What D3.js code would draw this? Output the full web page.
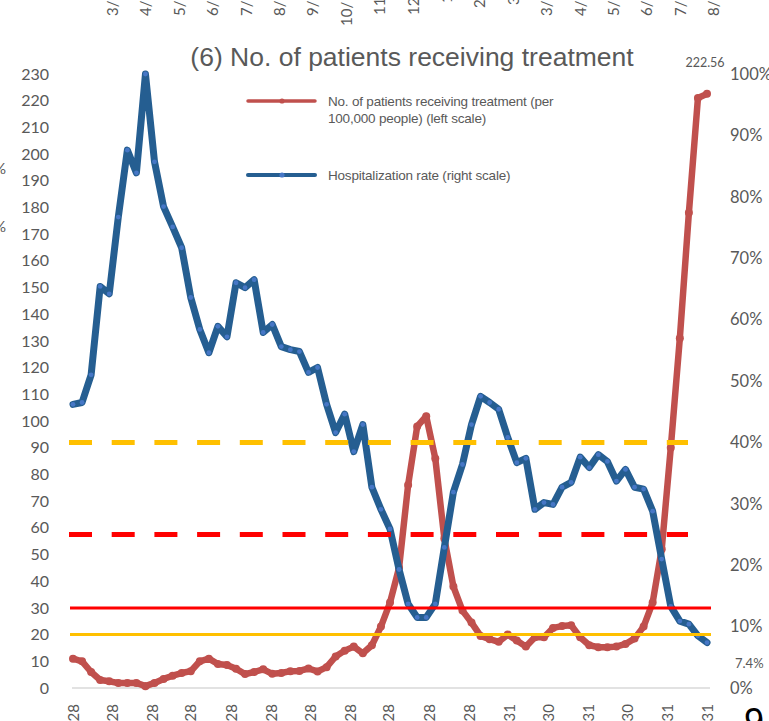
<!DOCTYPE html>
<html>
<head>
<meta charset="utf-8">
<script src="https://cdn.jsdelivr.net/npm/d3@7"></script>
<style>
  body { margin: 0; background: #fff; }
  svg { display: block; }
  text { fill: #595959; }
</style>
</head>
<body>
<div id="viz"></div>
<script>
// weekly points, first and last date
var startDate = new Date(2020, 3, 28);
var nPoints = 71;

// No. of patients receiving treatment per 100,000 (left scale)
var patients = [11, 10, 6, 3, 2.5, 1.9, 1.9, 1.9, 0.7, 1.9,
  3.4, 4.6, 5.6, 6.3, 10, 11, 9, 8.6, 7.2, 5.2,
  6, 7, 5.3, 5.6, 6.3, 6.4, 7.3, 6.2, 7.8, 11.8,
  14, 15.5, 13, 16, 23, 32, 45, 76, 98, 101.8,
  86, 56, 38, 29, 24.5, 19.5, 18.3, 17.3, 20, 17.8,
  15.5, 19, 19, 22.5, 23.2, 23.5, 19, 16, 15.3, 15.3,
  15.5, 16.5, 18.5, 23, 32, 52, 90, 131, 178, 221, 222.56];

// Hospitalization rate, % (right scale)
var hospRate = [46.2, 46.5, 51, 65.4, 64.2, 76.7, 87.6, 83.9, 100, 85.7,
  78.4, 75.1, 71.7, 63.6, 58.4, 54.6, 58.9, 57.2, 66, 65.2,
  66.5, 57.9, 59.2, 55.6, 55.1, 54.8, 51.4, 52.2, 46.2, 41.6,
  44.6, 38.5, 42.9, 32.7, 29.1, 25.9, 19.3, 13.7, 11.5, 11.5,
  13.7, 22.9, 31.9, 36.4, 42.9, 47.5, 46.5, 45.4, 40.8, 36.7,
  37.4, 29.1, 30.2, 29.9, 32.7, 33.5, 37.6, 35.9, 38, 36.9,
  33.7, 35.6, 32.7, 32.4, 28.8, 21, 13.3, 10.9, 10.4, 8.5, 7.4];

// x tick dates (Excel month steps, snapping to month end after Feb 28)
var tickDates = ['2020-04-28', '2020-05-28', '2020-06-28', '2020-07-28', '2020-08-28',
  '2020-09-28', '2020-10-28', '2020-11-28', '2020-12-28', '2021-01-28', '2021-02-28',
  '2021-03-31', '2021-04-30', '2021-05-31', '2021-06-30', '2021-07-31', '2021-08-31'];

var leftTicks = d3.range(0, 231, 10);
var rightTicks = d3.range(0, 101, 10);

// stage thresholds
var patientLimits = [20, 30];   // yellow, red
var rateLimits = [40, 25];      // yellow, red

// cut-off labels from the chart above
var strayTop = ['3/', '4/', '5/', '6/', '7/', '8/', '9/', '10/', '11', '12', '1', '2', '3',
  '3/', '4/', '5/', '6/', '7/', '8/'];
var strayTopBottom = [16, 16, 16, 16, 16, 16, 16, 26, 15, 15, 3, 8, 5, 16, 16, 16, 16, 16, 16];

var W = 769, H = 721;
var red = '#C0504D', blue = '#255E91', blueDot = '#4677C6';
var tickFont = 'Lato, "Liberation Sans", sans-serif';
var textFont = '"Liberation Sans", Arial, sans-serif';

var parse = d3.timeParse('%Y-%m-%d');
var dates = d3.range(nPoints).map(function(i) { return d3.timeDay.offset(startDate, 7 * i); });

var svg = d3.select('#viz').append('svg').attr('width', W).attr('height', H);

var x = d3.scaleTime().domain([startDate, dates[nPoints - 1]]).range([73, 707]);
var yL = d3.scaleLinear().domain([0, 230]).range([688, 74]);
var yR = d3.scaleLinear().domain([0, 100]).range([688, 74]);

// baseline
svg.append('line')
  .attr('x1', 72).attr('x2', 710)
  .attr('y1', yL(0)).attr('y2', yL(0))
  .attr('stroke', '#D9D9D9').attr('stroke-width', 1.5);

// left axis
var gL = svg.append('g').attr('transform', 'translate(52,0)')
  .call(d3.axisLeft(yL).tickValues(leftTicks).tickSize(0).tickPadding(3));
gL.select('.domain').remove();
gL.selectAll('text').style('font-family', tickFont).style('font-size', '16px').style('fill', '#595959');

// right axis
var gR = svg.append('g').attr('transform', 'translate(727,0)')
  .call(d3.axisRight(yR).tickValues(rightTicks).tickSize(0).tickPadding(3)
    .tickFormat(function(d) { return d + '%'; }));
gR.select('.domain').remove();
gR.selectAll('text').style('font-family', tickFont).style('font-size', '16.5px').style('fill', '#595959');

// bottom axis, rotated labels
var gB = svg.append('g').attr('transform', 'translate(0,' + yL(0) + ')')
  .call(d3.axisBottom(x).tickValues(tickDates.map(parse)).tickSize(0)
    .tickFormat(d3.timeFormat('%Y/%-m/%-d')));
gB.select('.domain').remove();
gB.selectAll('text')
  .attr('transform', 'rotate(-90)')
  .attr('x', -16).attr('y', 0).attr('dy', '0.35em')
  .style('text-anchor', 'end')
  .style('font-family', tickFont).style('font-size', '15px').style('fill', '#595959');

// series
var lineL = d3.line().x(function(d, i) { return x(dates[i]); }).y(function(d) { return yL(d); });
var lineR = d3.line().x(function(d, i) { return x(dates[i]); }).y(function(d) { return yR(d); });

svg.append('path').datum(patients)
  .attr('d', lineL).attr('fill', 'none')
  .attr('stroke', red).attr('stroke-width', 6.5)
  .attr('stroke-linejoin', 'round').attr('stroke-linecap', 'round');
svg.selectAll('.pdot').data(patients).enter().append('circle')
  .attr('class', 'pdot')
  .attr('cx', function(d, i) { return x(dates[i]); })
  .attr('cy', function(d) { return yL(d); })
  .attr('r', 4).attr('fill', red);

svg.append('path').datum(hospRate)
  .attr('d', lineR).attr('fill', 'none')
  .attr('stroke', blue).attr('stroke-width', 7)
  .attr('stroke-linejoin', 'round').attr('stroke-linecap', 'round');
svg.selectAll('.hdot').data(hospRate).enter().append('circle')
  .attr('class', 'hdot')
  .attr('cx', function(d, i) { return x(dates[i]); })
  .attr('cy', function(d) { return yR(d); })
  .attr('r', 2.4).attr('fill', blueDot);

// threshold lines
var limitColors = ['#FFC000', '#FF0000'];
svg.selectAll('.lim').data(patientLimits).enter().append('line')
  .attr('x1', 70).attr('x2', 711)
  .attr('y1', function(d) { return yL(d); }).attr('y2', function(d) { return yL(d); })
  .attr('stroke', function(d, i) { return limitColors[i]; })
  .attr('stroke-width', 3);
svg.selectAll('.dlim').data(rateLimits).enter().append('line')
  .attr('x1', 69).attr('x2', 688)
  .attr('y1', function(d) { return yR(d); }).attr('y2', function(d) { return yR(d); })
  .attr('stroke', function(d, i) { return limitColors[i]; })
  .attr('stroke-width', 5)
  .attr('stroke-dasharray', '23 19.7');

// data labels
var lastI = nPoints - 1;
svg.append('text')
  .attr('x', x(dates[lastI]) - 2).attr('y', yL(patients[lastI]) - 27)
  .attr('text-anchor', 'middle')
  .style('font-family', tickFont).style('font-size', '12.5px')
  .text(patients[lastI]);
svg.append('text')
  .attr('x', 735).attr('y', yR(hospRate[lastI]) + 25)
  .style('font-family', tickFont).style('font-size', '13px')
  .text(hospRate[lastI] + '%');

// title
svg.append('text')
  .attr('x', 412).attr('y', 66)
  .attr('text-anchor', 'middle')
  .style('font-family', textFont).style('font-size', '26.5px')
  .text('(6) No. of patients receiving treatment');

// legend
var legend = [
  { color: red, dot: red, w: 3.5, y: 101, lines: ['No. of patients receiving treatment (per', '100,000 people) (left scale)'] },
  { color: blue, dot: blueDot, w: 4, y: 175, lines: ['Hospitalization rate (right scale)'] }
];
legend.forEach(function(l) {
  svg.append('line').attr('x1', 248).attr('x2', 315).attr('y1', l.y).attr('y2', l.y)
    .attr('stroke', l.color).attr('stroke-width', l.w).attr('stroke-linecap', 'round');
  svg.append('circle').attr('cx', 282).attr('cy', l.y).attr('r', 2.6).attr('fill', l.dot);
  l.lines.forEach(function(t, k) {
    svg.append('text').attr('x', 328).attr('y', l.y + 5 + k * 17)
      .style('font-family', textFont).style('font-size', '13.5px').style('letter-spacing', '-0.2px')
      .text(t);
  });
});

// fragments cut off at the picture edges
svg.selectAll('.stray').data(strayTop).enter().append('text')
  .attr('transform', function(d, i) {
    return 'translate(' + (113 + i * 33.4 + 5) + ',' + strayTopBottom[i] + ') rotate(-90)';
  })
  .style('font-family', tickFont).style('font-size', '15px')
  .text(function(d) { return d; });
[174, 232].forEach(function(yy) {
  svg.append('text').attr('x', 6).attr('y', yy).attr('text-anchor', 'end')
    .style('font-family', tickFont).style('font-size', '15px').text('0%');
});
svg.append('text').attr('x', 744).attr('y', 734)
  .style('font-family', textFont).style('font-size', '36px').style('fill', '#000')
  .text('9');
</script>
</body>
</html>
